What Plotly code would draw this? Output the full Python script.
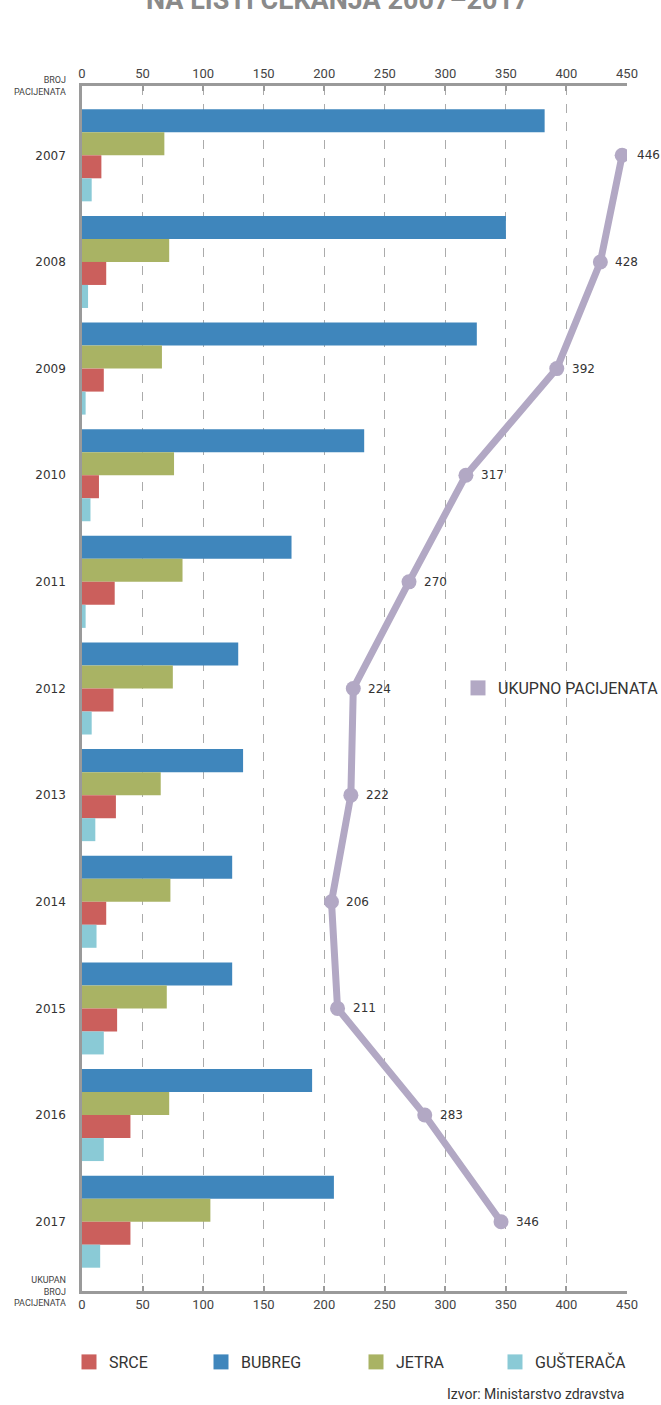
import plotly.graph_objects as go

years = [2007, 2008, 2009, 2010, 2011, 2012, 2013, 2014, 2015, 2016, 2017]
bubreg = [382, 350, 326, 233, 173, 129, 133, 124, 124, 190, 208]
jetra = [68, 72, 66, 76, 83, 75, 65, 73, 70, 72, 106]
srce = [16, 20, 18, 14, 27, 26, 28, 20, 29, 40, 40]
gusteraca = [8, 5, 3, 7, 3, 8, 11, 12, 18, 18, 15]
ukupno = [446, 428, 392, 317, 270, 224, 222, 206, 211, 283, 346]
x_ticks = [0, 50, 100, 150, 200, 250, 300, 350, 400, 450]

C_BUB = "#3F86BC"
C_JET = "#A9B364"
C_SRC = "#CB5F5C"
C_GUS = "#8ACAD6"
C_UKU = "#B2A8C4"

fig = go.Figure()
series = [("BUBREG", bubreg, C_BUB), ("JETRA", jetra, C_JET),
          ("SRCE", srce, C_SRC), ("GUŠTERAČA", gusteraca, C_GUS)]
for name, vals, col in series:
    fig.add_trace(go.Bar(x=vals, y=years, orientation="h", name=name,
                         marker=dict(color=col, line=dict(width=0)),
                         showlegend=False))

fig.add_trace(go.Scatter(x=ukupno, y=years, xaxis="x2", mode="lines+markers",
                         line=dict(color=C_UKU, width=7),
                         marker=dict(size=15, color=C_UKU),
                         showlegend=False, hoverinfo="x+y"))

# legend entries (each in its own legend box for precise placement), container coords
legend_items = [("SRCE", C_SRC, "legend", 69), ("BUBREG", C_BUB, "legend3", 201),
                ("JETRA", C_JET, "legend4", 356), ("GUŠTERAČA", C_GUS, "legend5", 495)]
for name, col, lg, _ in legend_items:
    fig.add_trace(go.Scatter(x=[None], y=[None], mode="markers", name=name,
                             marker=dict(symbol="square", size=15, color=col), legend=lg))
fig.add_trace(go.Scatter(x=[None], y=[None], mode="markers", name="UKUPNO PACIJENATA",
                         marker=dict(symbol="square", size=15, color=C_UKU),
                         legend="legend2"))

axis_common = dict(range=[0, 450], tickvals=x_ticks, showline=True, linecolor="#9a9a9a",
                   linewidth=2.5, ticks="inside", ticklen=5, tickcolor="#9a9a9a", tickwidth=1.5,
                   zeroline=False, tickfont=dict(family="Roboto", size=13, color="#444"),
                   fixedrange=True)

W, H = 661, 1405
leg_font = dict(family="Roboto", size=16, color="#333")
layout_legends = {}
for name, col, lg, xpx in legend_items:
    layout_legends[lg] = dict(x=xpx / W, xref="container", xanchor="left",
                              y=1 - 1362 / H, yref="container", yanchor="middle",
                              font=leg_font, bgcolor="rgba(0,0,0,0)")

fig.update_layout(
    width=W, height=H,
    margin=dict(l=82, r=34, t=86, b=114, autoexpand=False),
    barmode="group", bargap=0.137, bargroupgap=0,
    plot_bgcolor="white", paper_bgcolor="white",
    xaxis=dict(side="top", showgrid=True, gridcolor="#ababab", griddash="dash", gridwidth=1.2,
               **axis_common),
    xaxis2=dict(side="bottom", overlaying="x", matches="x", showgrid=False, **axis_common),
    yaxis=dict(range=[2017.65, 2006.35], tickvals=years, ticktext=[str(y) for y in years],
               showline=True, linecolor="#9a9a9a", linewidth=2.5, showgrid=False, zeroline=False,
               ticks="", ticklabelstandoff=11,
               tickfont=dict(family="DejaVu Sans", size=12, color="#333")),
    legend2=dict(x=458 / W, xref="container", xanchor="left",
                 y=1 - 688 / H, yref="container", yanchor="middle",
                 font=leg_font, bgcolor="rgba(0,0,0,0)"),
    showlegend=True,
    **layout_legends,
)

annotations = []
for xv, yv in zip(ukupno, years):
    annotations.append(dict(x=xv, y=yv, xref="x", yref="y", text=str(xv), showarrow=False,
                            xanchor="left", xshift=13,
                            font=dict(family="DejaVu Sans", size=12, color="#333")))
annotations += [
    dict(x=0, y=1, xref="paper", yref="paper", text="BROJ<br>PACIJENATA", showarrow=False,
         xanchor="right", yanchor="middle", xshift=-14, align="right",
         font=dict(family="Roboto", size=9, color="#444")),
    dict(x=0, y=0, xref="paper", yref="paper", text="UKUPAN<br>BROJ<br>PACIJENATA", showarrow=False,
         xanchor="right", yanchor="middle", xshift=-14, align="right",
         font=dict(family="Roboto", size=9, color="#444")),
    dict(x=1, y=-0.0855, xref="paper", yref="paper", text="Izvor: Ministarstvo zdravstva",
         showarrow=False, xanchor="right", yanchor="middle",
         font=dict(family="Roboto", size=14, color="#333")),
    dict(x=0.468, y=1.0564, xref="paper", yref="paper", text="<b>NA LISTI ČEKANJA 2007–2017</b>",
         showarrow=False, xanchor="center", yanchor="bottom",
         font=dict(family="Roboto", size=27, color="#8a8a8a")),
]
fig.update_layout(annotations=annotations)

fig.write_html("out.html", config={"displayModeBar": False},
               post_script="document.body.style.margin='0';document.body.style.overflow='hidden';")
